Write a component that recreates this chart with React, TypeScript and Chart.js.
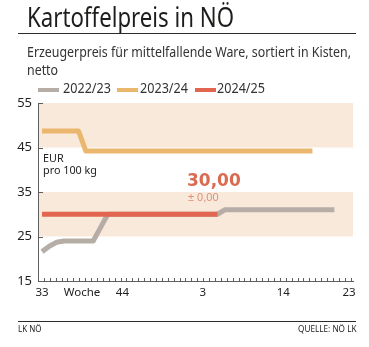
import React, { useEffect, useLayoutEffect, useRef } from "react";
import { Chart, registerables } from "chart.js";

Chart.register(...registerables);

const FONT = "'Noto Sans', 'Open Sans', sans-serif";
const SANS = "'Liberation Sans', Arial, sans-serif";
const BOLD = "'DejaVu Sans', sans-serif";

// weeks 33..52, 1..23
const weeks = [33, 34, 35, 36, 37, 38, 39, 40, 41, 42, 43, 44, 45, 46, 47, 48, 49, 50, 51, 52,
  1, 2, 3, 4, 5, 6, 7, 8, 9, 10, 11, 12, 13, 14, 15, 16, 17, 18, 19, 20, 21, 22, 23];

const series2223 = [21.6, 22.8, 23.7, 24, 24, 24, 24, 24, 27, 30,
  30, 30, 30, 30, 30, 30, 30, 30, 30, 30,
  30, 30, 30, 30, 30, 31, 31, 31, 31, 31,
  31, 31, 31, 31, 31, 31, 31, 31, 31, 31,
  31, null, null];
const series2324 = [48.7, 48.7, 48.7, 48.7, 48.7, 48.7, 44.2, 44.2, 44.2, 44.2,
  44.2, 44.2, 44.2, 44.2, 44.2, 44.2, 44.2, 44.2, 44.2, 44.2,
  44.2, 44.2, 44.2, 44.2, 44.2, 44.2, 44.2, 44.2, 44.2, 44.2,
  44.2, 44.2, 44.2, 44.2, 44.2, 44.2, 44.2, 44.2, null, null,
  null, null, null];
const series2425 = [30, 30, 30, 30, 30, 30, 30, 30, 30, 30,
  30, 30, 30, 30, 30, 30, 30, 30, 30, 30,
  30, 30, 30, 30, 30, null, null, null, null, null,
  null, null, null, null, null, null, null, null, null, null,
  null, null, null];

const seriesNames = ["2022/23", "2023/24", "2024/25"];
const seriesColors = ["#b6ada6", "#ebb66e", "#e2654f"];

// x tick labels at week-index positions
const xTickPositions = [0, 5.47, 11, 22, 33, 42];
const xTickLabels = ["33", "Woche", "44", "3", "14", "23"];
const yTicks = [15, 25, 35, 45, 55];
const bands = [[25, 35], [45, 55]];
const minorTickCount = 53;

const BAND = "#f9e9db";
const AXIS = "#5e5e5e";

const decoPlugin = {
  id: "deco",
  beforeDraw(chart: any) {
    const { ctx, chartArea, scales } = chart;
    const y = scales.y;
    ctx.save();
    ctx.fillStyle = BAND;
    for (const [lo, hi] of bands) {
      const t = y.getPixelForValue(hi);
      const b = y.getPixelForValue(lo);
      ctx.fillRect(chartArea.left, t, chartArea.right - chartArea.left, b - t);
    }
    ctx.restore();
  },
  afterDraw(chart: any) {
    const { ctx, chartArea, scales } = chart;
    ctx.save();
    ctx.strokeStyle = AXIS;
    ctx.lineWidth = 1;
    ctx.beginPath();
    for (const v of yTicks) {
      const p = Math.round(scales.y.getPixelForValue(v)) + 0.5;
      ctx.moveTo(chartArea.left, p);
      ctx.lineTo(chartArea.left + 5, p);
    }
    for (let i = 1; i <= minorTickCount; i++) {
      const p = Math.round(scales.xt.getPixelForValue(i)) + 0.5;
      ctx.moveTo(p, chartArea.bottom);
      ctx.lineTo(p, chartArea.bottom - 3);
    }
    ctx.stroke();
    ctx.restore();
  },
};

// Text squeezed horizontally to a target width (emulates the condensed print face)
function Fit({ w, style, children }: { w: number; style: any; children: any }) {
  const r = useRef<HTMLSpanElement | null>(null);
  useLayoutEffect(() => {
    const fit = () => {
      const el = r.current;
      if (!el) return;
      el.style.transform = "none";
      const nat = el.getBoundingClientRect().width;
      if (nat > 0) el.style.transform = `scaleX(${w / nat})`;
    };
    fit();
    (document as any).fonts?.ready?.then(fit);
  });
  return (
    <span ref={r} style={{ position: "absolute", whiteSpace: "nowrap", transformOrigin: "0 0", fontFamily: FONT, margin: 0, ...style }}>
      {children}
    </span>
  );
}

function App() {
  const ref = useRef<HTMLCanvasElement | null>(null);

  useEffect(() => {
    if (!ref.current) return;
    const all = [series2223, series2324, series2425];
    const chart = new Chart(ref.current, {
      type: "line",
      data: {
        datasets: all.map((s, k) => ({
          label: seriesNames[k],
          data: s.map((v, i) => ({ x: i, y: v })),
          borderColor: seriesColors[k],
          backgroundColor: seriesColors[k],
          borderWidth: 5,
          pointRadius: 0,
          tension: 0,
          borderCapStyle: "butt",
          borderJoinStyle: "round",
          spanGaps: false,
          order: 3 - k,
        })),
      } as any,
      plugins: [decoPlugin],
      options: {
        responsive: false,
        animation: false,
        devicePixelRatio: 1,
        layout: { padding: { left: 16, top: 103, right: 16, bottom: 46 } },
        plugins: { legend: { display: false }, tooltip: { enabled: false } },
        scales: {
          x: {
            type: "linear",
            min: -0.55,
            max: 42.55,
            grid: { display: false, drawTicks: false },
            border: { display: true, color: AXIS, width: 1 },
            afterFit: (s: any) => { s.height = 20; },
            afterBuildTicks: (s: any) => { s.ticks = xTickPositions.map((v) => ({ value: v })); },
            ticks: {
              autoSkip: false,
              maxRotation: 0,
              padding: 5,
              color: "#222",
              font: { family: FONT, size: 11.5 },
              callback: (_v: any, i: number) => xTickLabels[i],
            },
          },
          xt: {
            type: "linear",
            axis: "x",
            position: "bottom",
            display: false,
            min: 0,
            max: minorTickCount + 0.4,
            ticks: { stepSize: 1 },
          },
          y: {
            type: "linear",
            min: 15,
            max: 55,
            grid: { display: false, drawTicks: false },
            border: { display: true, color: AXIS, width: 1 },
            afterFit: (s: any) => { s.width = 22; },
            afterBuildTicks: (s: any) => { s.ticks = yTicks.map((v) => ({ value: v })); },
            ticks: {
              padding: 6,
              color: "#222",
              font: { family: FONT, size: 13 },
            },
          },
        } as any,
      },
    });
    return () => chart.destroy();
  }, []);

  const rule = (top: number) => ({ position: "absolute" as const, left: 18, top, width: 338, height: 1, background: "#2b2b2b" });
  const swatchLefts = [38, 116.7, 195];
  const textLefts = [62.5, 140, 217.3];

  return (
    <div style={{ position: "absolute", left: 0, top: 0, width: 369, height: 347, background: "#fff", overflow: "hidden" }}>
      <canvas ref={ref} width={369} height={347} style={{ position: "absolute", left: 0, top: 0, width: 369, height: 347 }} />
      <Fit w={207} style={{ left: 27, top: 3.5, fontSize: 26.5, lineHeight: "27px", color: "#1d1d1b" }}>
        Kartoffelpreis in NÖ
      </Fit>
      <div style={rule(33)} />
      <Fit w={324} style={{ left: 27, top: 42.5, fontSize: 14, lineHeight: "18px", color: "#333" }}>
        Erzeugerpreis für mittelfallende Ware, sortiert in Kisten,<br />netto
      </Fit>
      {seriesNames.map((n, k) => (
        <React.Fragment key={n}>
          <div style={{ position: "absolute", left: swatchLefts[k], top: 88, width: 21, height: 4, background: seriesColors[k] }} />
          <Fit w={48} style={{ left: textLefts[k], top: 81, fontSize: 13.5, lineHeight: "15px", color: "#333" }}>
            {n}
          </Fit>
        </React.Fragment>
      ))}
      <Fit w={54} style={{ left: 42.5, top: 152, fontSize: 11.5, lineHeight: "11.5px", color: "#222" }}>
        EUR<br />pro 100 kg
      </Fit>
      <div style={{ position: "absolute", whiteSpace: "nowrap", left: 187, top: 172.3, fontFamily: BOLD, fontWeight: 700, fontSize: 17, lineHeight: "17px", color: "#d96b50" }}>
        30,00
      </div>
      <div style={{ position: "absolute", whiteSpace: "nowrap", left: 188, top: 192.4, fontFamily: SANS, fontSize: 11, lineHeight: "11px", color: "#dc8f74" }}>
        ± 0,00
      </div>
      <div style={rule(321)} />
      <Fit w={23.5} style={{ left: 18, top: 323.5, fontSize: 8.5, lineHeight: "10px", color: "#222" }}>
        LK NÖ
      </Fit>
      <Fit w={58.5} style={{ left: 297.5, top: 323.5, fontSize: 8.5, lineHeight: "10px", color: "#222" }}>
        QUELLE: NÖ LK
      </Fit>
    </div>
  );
}

export default App;
